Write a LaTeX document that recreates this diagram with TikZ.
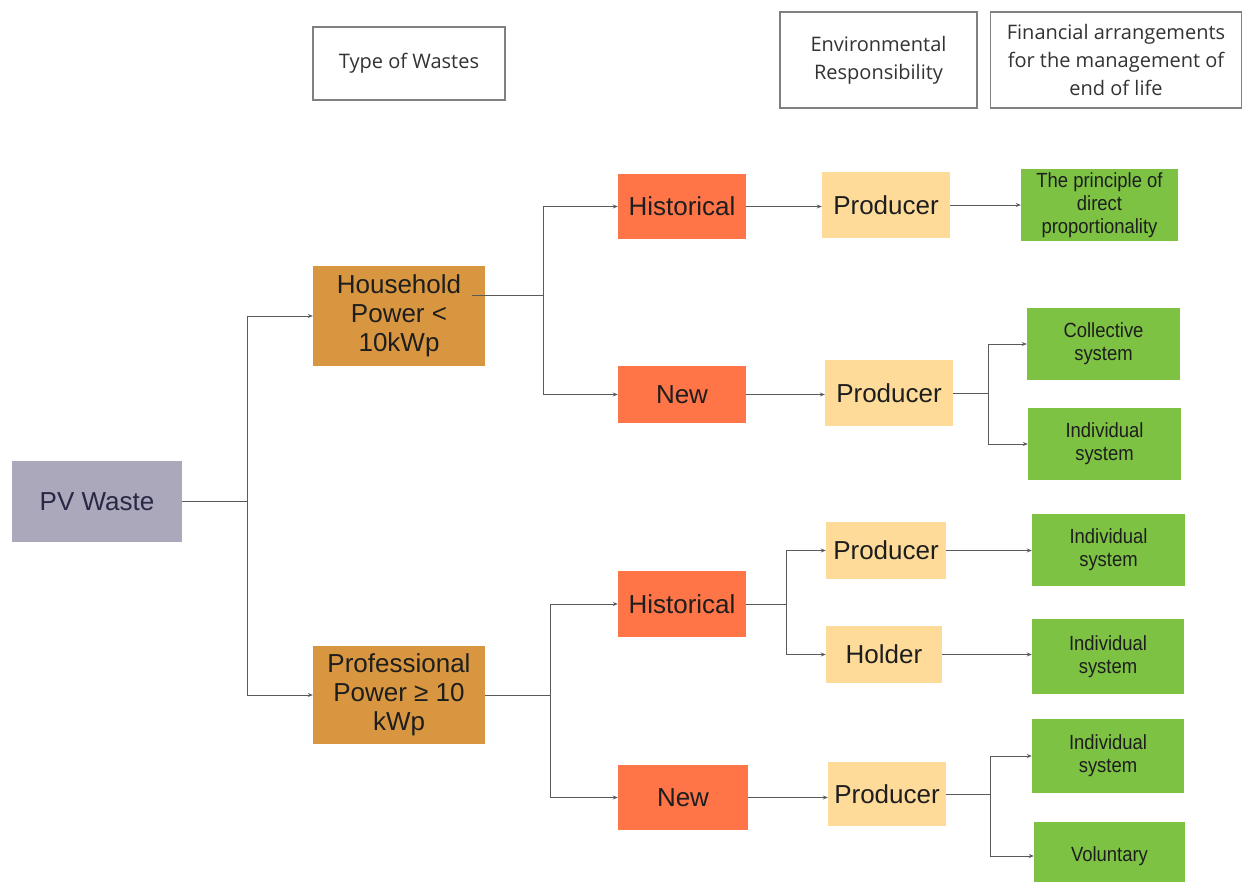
\documentclass[tikz,border=0pt]{standalone}
\usepackage{fontspec}
\setmainfont{Liberation Sans}
\newfontfamily\hdrfont{Open Sans}
\newfontfamily\narrowfont[FakeStretch=0.9]{Liberation Sans}
\usetikzlibrary{arrows.meta,calc}
\definecolor{pvgray}{RGB}{170,168,186}
\definecolor{pvtext}{RGB}{40,40,70}
\definecolor{gold}{RGB}{216,150,64}
\definecolor{coral}{RGB}{255,117,72}
\definecolor{cream}{RGB}{255,219,154}
\definecolor{leaf}{RGB}{125,194,67}
\definecolor{linegray}{RGB}{90,90,90}
\definecolor{txt}{RGB}{30,30,30}
\begin{document}
\begin{tikzpicture}[x=1pt,y=-1pt,
  box/.style={inner sep=0pt, align=center, text=txt},
  hdr/.style={box, draw=gray, line width=1.2pt, fill=white, font=\hdrfont\fontsize{20}{28}\selectfont, text=black!80},
  big/.style={box, font=\fontsize{26}{29}\selectfont},
  pvbox/.style={big, fill=pvgray, text=pvtext},
  typebox/.style={big, fill=gold},
  agebox/.style={big, fill=coral},
  respbox/.style={big, fill=cream},
  finbox/.style={box, fill=leaf, font=\narrowfont\fontsize{20.5}{23}\selectfont},
  conn/.style={draw=linegray, line width=0.9pt},
  arr/.style={conn, -{Stealth[length=5pt,width=4pt]}}]
\useasboundingbox[fill=white] (0,0) rectangle (1244,882);
% headers
\node[hdr, minimum width=192, minimum height=73] (typ) at (409,63.5) {Type of Wastes};
\node[hdr, minimum width=197, minimum height=96] (env) at (878.5,60) {Environmental\\Responsibility};
\node[hdr, minimum width=251, minimum height=96] (fin) at (1116,60) {Financial arrangements\\for the management of\\end of life};
% main tree
\node[pvbox, minimum width=170, minimum height=81] (pv) at (97,501.5) {PV Waste};
\node[typebox, minimum width=172, minimum height=100] (hh) at (399,316) {Household\\Power <\\10kWp};
\node[typebox, minimum width=172, minimum height=98] (pro) at (399,695) {Professional\\Power ≥ 10\\kWp};
\node[agebox, minimum width=128, minimum height=65] (h1) at (682,206.5) {Historical};
\node[agebox, minimum width=128, minimum height=57] (n1) at (682,394.5) {New};
\node[agebox, minimum width=128, minimum height=66] (h2) at (682,604) {Historical};
\node[agebox, minimum width=130, minimum height=65] (n2) at (683,797.5) {New};
\node[respbox, minimum width=128, minimum height=66] (p1) at (886,205) {Producer};
\node[respbox, minimum width=128, minimum height=66] (p2) at (889,393) {Producer};
\node[respbox, minimum width=120, minimum height=57] (p3) at (886,550.5) {Producer};
\node[respbox, minimum width=116, minimum height=57] (hold) at (884,654.5) {Holder};
\node[respbox, minimum width=118, minimum height=64] (p4) at (887,794) {Producer};
\node[finbox, minimum width=157, minimum height=72] (g1) at (1099.5,205) {The principle of\\direct\\proportionality};
\node[finbox, minimum width=153, minimum height=72] (g2) at (1103.5,344) {Collective\\system};
\node[finbox, minimum width=153, minimum height=72] (g3) at (1104.5,444) {Individual\\system};
\node[finbox, minimum width=153, minimum height=72] (g4) at (1108.5,550) {Individual\\system};
\node[finbox, minimum width=152, minimum height=75] (g5) at (1108,656.5) {Individual\\system};
\node[finbox, minimum width=152, minimum height=74] (g6) at (1108,756) {Individual\\system};
\node[finbox, minimum width=151, minimum height=68] (g7) at (1109.5,856) {Voluntary};
% junctions
\coordinate (j1) at (247,501.5);
\coordinate (j2) at (543,295);
\coordinate (j3) at (550,695);
\coordinate (j4) at (988,393);
\coordinate (j5) at (786,604);
\coordinate (j6) at (990,794);
% connectors
\draw[conn] (pv.east) -- (j1);
\draw[arr] (j1) |- (hh.west);
\draw[arr] (j1) |- (pro.west);
\draw[conn] ([xshift=-13pt]hh.east |- j2) -- (j2);
\draw[arr] (j2) |- (h1.west);
\draw[arr] (j2) |- (n1.west);
\draw[conn] (pro.east) -- (j3);
\draw[arr] (j3) |- (h2.west);
\draw[arr] (j3) |- (n2.west);
\draw[arr] (h1.east) -- (h1.east -| p1.west);
\draw[arr] (p1.east) -- (p1.east -| g1.west);
\draw[arr] (n1.east) -- (n1.east -| p2.west);
\draw[conn] (p2.east) -- (j4);
\draw[arr] (j4) |- (g2.west);
\draw[arr] (j4) |- (g3.west);
\draw[conn] (h2.east) -- (j5);
\draw[arr] (j5) |- (p3.west);
\draw[arr] (j5) |- (hold.west);
\draw[arr] (p3.east) -- (p3.east -| g4.west);
\draw[arr] (hold.east) -- (hold.east -| g5.west);
\draw[arr] (n2.east) -- (n2.east -| p4.west);
\draw[conn] (p4.east) -- (j6);
\draw[arr] (j6) |- (g6.west);
\draw[arr] (j6) |- (g7.west);
\end{tikzpicture}
\end{document}
